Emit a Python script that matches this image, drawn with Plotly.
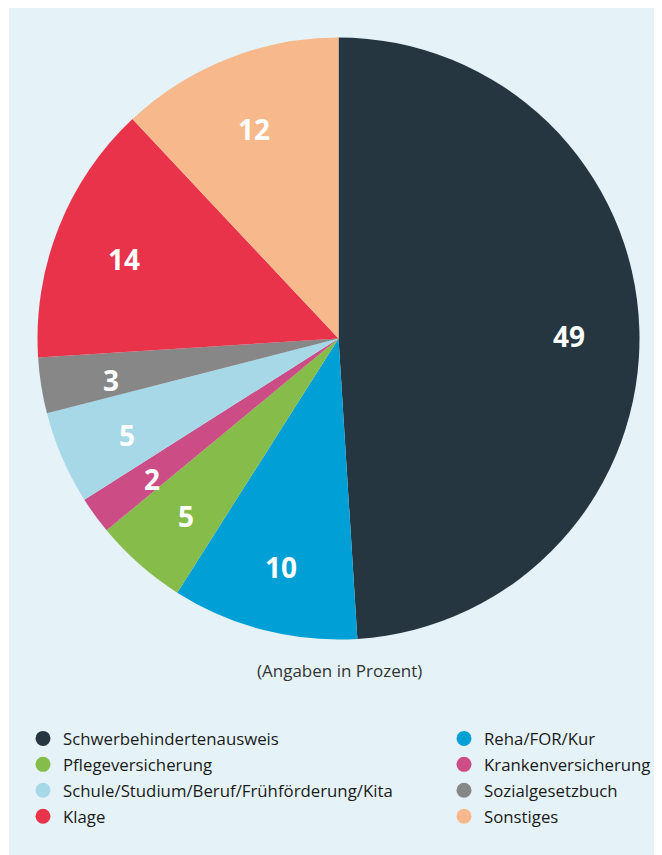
import math
import plotly.graph_objects as go

labels = ["Schwerbehindertenausweis", "Reha/FOR/Kur", "Pflegeversicherung",
          "Krankenversicherung", "Schule/Studium/Beruf/Frühförderung/Kita",
          "Sozialgesetzbuch", "Klage", "Sonstiges"]
values = [49, 10, 5, 2, 5, 3, 14, 12]
colors = ["#263640", "#009fd6", "#86bc4a", "#cc4c85", "#a6d8e7",
          "#878787", "#e8334a", "#f7b98b"]
caption = "(Angaben in Prozent)"

OFF = 8  # page body margin
W, H = 654, 847
ML, MT = 1, 0
PW, PH = W - ML, H - MT
CX, CY, R = 338.5, 338.5, 301.0  # page pixels
BG = "#e5f3f8"

def px_to_paper(x, y):
    fx, fy = x - OFF, y - OFF
    return (fx - ML) / PW, 1 - (fy - MT) / PH

x0, y1 = px_to_paper(CX - R, CY - R)
x1, y0 = px_to_paper(CX + R, CY + R)

fig = go.Figure()
fig.add_trace(go.Pie(
    labels=labels, values=values, sort=False, direction="clockwise", rotation=0,
    marker=dict(colors=colors, line=dict(width=0)),
    textinfo="none", hoverinfo="label+value", showlegend=False,
    domain=dict(x=[x0, x1], y=[y0, y1]),
))

# legend entries: left column = slices 0,2,4,6 ; right column = 1,3,5,7
for i, (lab, col) in enumerate(zip(labels, colors)):
    fig.add_trace(go.Scatter(
        x=[None], y=[None], mode="markers", name=lab,
        marker=dict(symbol="circle", size=15, color=col),
        legend="legend" if i % 2 == 0 else "legend2",
        legendgroup=f"g{i}", showlegend=True, hoverinfo="skip",
    ))

annotations = []
total = sum(values)
cum = 0
for v in values:
    mid = (cum + v / 2) / total * 2 * math.pi
    cum += v
    tx = CX + 0.765 * R * math.sin(mid)
    ty = CY - 0.765 * R * math.cos(mid) + 5
    px, py = px_to_paper(tx, ty)
    annotations.append(dict(x=px, y=py, xref="paper", yref="paper", text=f"<b>{v}</b>",
                            xanchor="center", yanchor="middle", showarrow=False,
                            font=dict(family="Open Sans", size=28, color="white")))
cx, cy = px_to_paper(339, 670)
annotations.append(dict(x=cx, y=cy, xref="paper", yref="paper", text=caption, showarrow=False,
                        xanchor="center", yanchor="middle",
                        font=dict(family="Open Sans", size=17, color="#333333")))

leg_font = dict(family="Open Sans", size=16.8, color="#1a1a1a")
l1x, l1y = px_to_paper(23, 721)
l2x, l2y = px_to_paper(444, 721)
common = dict(orientation="v", xanchor="left", yanchor="top", itemwidth=30,
              font=leg_font, tracegroupgap=1.1, bgcolor="rgba(0,0,0,0)", borderwidth=0)
fig.update_layout(
    width=W, height=H,
    margin=dict(l=ML, r=0, t=MT, b=0, autoexpand=False),
    paper_bgcolor="white",
    plot_bgcolor=BG,
    xaxis=dict(visible=False, range=[0, 1]),
    yaxis=dict(visible=False, range=[0, 1]),
    annotations=annotations,
    shapes=[dict(type="rect", xref="paper", yref="paper", x0=0, x1=1, y0=0, y1=1,
                 fillcolor=BG, line=dict(width=0), layer="below")],
    showlegend=True,
    legend=dict(x=l1x, y=l1y, **common),
    legend2=dict(x=l2x, y=l2y, **common),
)
fig.write_html("out.html")
